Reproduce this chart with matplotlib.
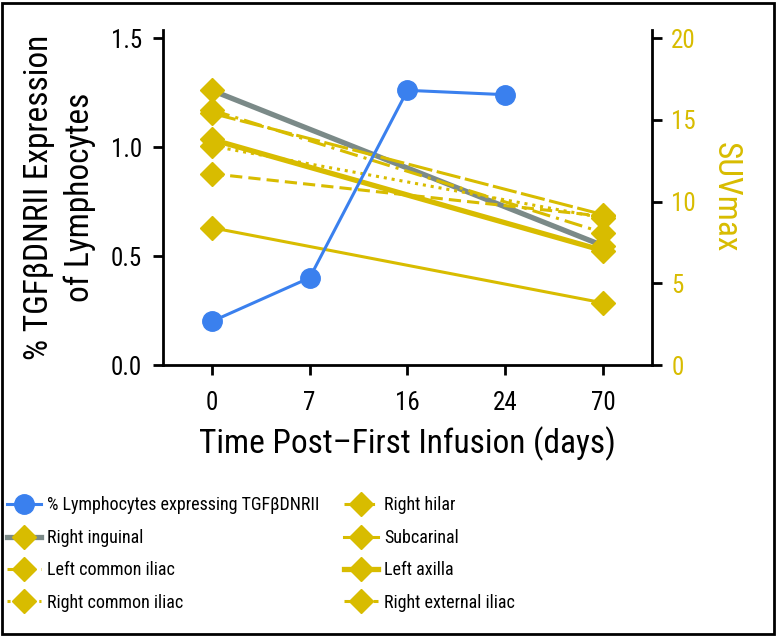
import matplotlib
matplotlib.use('Agg')
import matplotlib.pyplot as plt
from matplotlib.patches import Rectangle

plt.rcParams['font.family'] = ['Roboto Condensed', 'Archivo Narrow', 'Liberation Sans', 'DejaVu Sans']

# x categories (days)
days = ['0', '7', '16', '24', '70']

# % lymphocytes expressing TGFbDNRII (days 0, 7, 16, 24)
lympho = [0.20, 0.40, 1.26, 1.24]

# SUVmax at day 0 and day 70
right_inguinal = [16.8, 7.3]
left_common_iliac = [15.6, 8.1]
right_common_iliac = [13.4, 9.0]
right_hilar = [11.7, 9.1]
subcarinal = [8.4, 3.8]
left_axilla = [13.8, 7.0]
right_external_iliac = [15.4, 9.2]

blue = '#3a80ee'
gold = '#d8bc00'
gray = '#7b8a88'

fig = plt.figure(figsize=(7.77, 6.37), dpi=100)
ax = fig.add_axes([0.2098, 0.427, 0.839 - 0.2098, 0.953 - 0.427])
ax2 = ax.twinx()

xi = list(range(len(days)))
pair = [xi[0], xi[-1]]

# gold SUV lines on the right axis
h_ing, = ax2.plot(pair, right_inguinal, color=gray, lw=3.8, marker='D', ms=12,
                  mfc=gold, mec=gold, label='Right inguinal')
h_lci, = ax2.plot(pair, left_common_iliac, color=gold, lw=2.2, dashes=(6, 2, 1, 2),
                  marker='D', ms=12, label='Left common iliac')
h_rci, = ax2.plot(pair, right_common_iliac, color=gold, lw=2.2, dashes=(1, 1.6),
                  marker='D', ms=12, label='Right common iliac')
h_rh, = ax2.plot(pair, right_hilar, color=gold, lw=2.2, dashes=(4, 2),
                 marker='D', ms=12, label='Right hilar')
h_sub, = ax2.plot(pair, subcarinal, color=gold, lw=2.2, marker='D', ms=12,
                  label='Subcarinal')
h_lax, = ax2.plot(pair, left_axilla, color=gold, lw=3.8, marker='D', ms=12,
                  label='Left axilla')
h_rei, = ax2.plot(pair, right_external_iliac, color=gold, lw=2.2, dashes=(8, 1.5),
                  marker='D', ms=12, label='Right external iliac')

# blue lymphocyte line on the left axis, drawn on top
h_ly, = ax.plot(xi[:len(lympho)], lympho, color=blue, lw=2.2, marker='o', ms=14,
                label='% Lymphocytes expressing TGF\u03b2DNRII')
ax.set_zorder(ax2.get_zorder() + 1)
ax.patch.set_visible(False)

ax.set_xlim(-0.5, 4.5)
ax.set_ylim(0, 1.537)
ax2.set_ylim(0, 20.5)
ax.set_xticks(xi)
ax.set_xticklabels(days)
ax.set_yticks([0, 0.5, 1.0, 1.5])
ax.set_yticklabels(['0.0', '0.5', '1.0', '1.5'])
ax2.set_yticks([0, 5, 10, 15, 20])

for a in (ax, ax2):
    a.spines['top'].set_visible(False)
    for s in a.spines.values():
        s.set_linewidth(2)
ax.spines['right'].set_visible(False)
ax2.spines['left'].set_visible(False)
ax2.spines['bottom'].set_visible(False)

ax.tick_params(axis='both', direction='out', length=7, width=2, labelsize=18, pad=8)
ax.tick_params(axis='x', pad=12)
ax2.tick_params(axis='y', direction='out', length=7, width=2, labelsize=18,
                labelcolor=gold, pad=7)

ax.set_xlabel('Time Post\u2013First Infusion (days)', fontsize=24, labelpad=8)
ax.set_ylabel('% TGF\u03b2DNRII Expression\nof Lymphocytes', fontsize=24,
              labelpad=11, linespacing=1.32)
ax2.set_ylabel('SUVmax', fontsize=24, color=gold, rotation=270, labelpad=33)

handles = [h_ly, h_ing, h_lci, h_rci, h_rh, h_sub, h_lax, h_rei]
fig.legend(handles=handles, labels=[h.get_label() for h in handles], ncol=2,
           loc='upper left', bbox_to_anchor=(0.0, 0.232), frameon=False,
           fontsize=13, handlelength=1.88, handletextpad=0.35, columnspacing=1.35,
           labelspacing=0.8, borderaxespad=0.2, borderpad=0.2)

fig.patches.append(Rectangle((0.003, 0.004), 0.993, 0.992, transform=fig.transFigure,
                             fill=False, lw=2, ec='black'))

fig.savefig('out.png', dpi=100)
